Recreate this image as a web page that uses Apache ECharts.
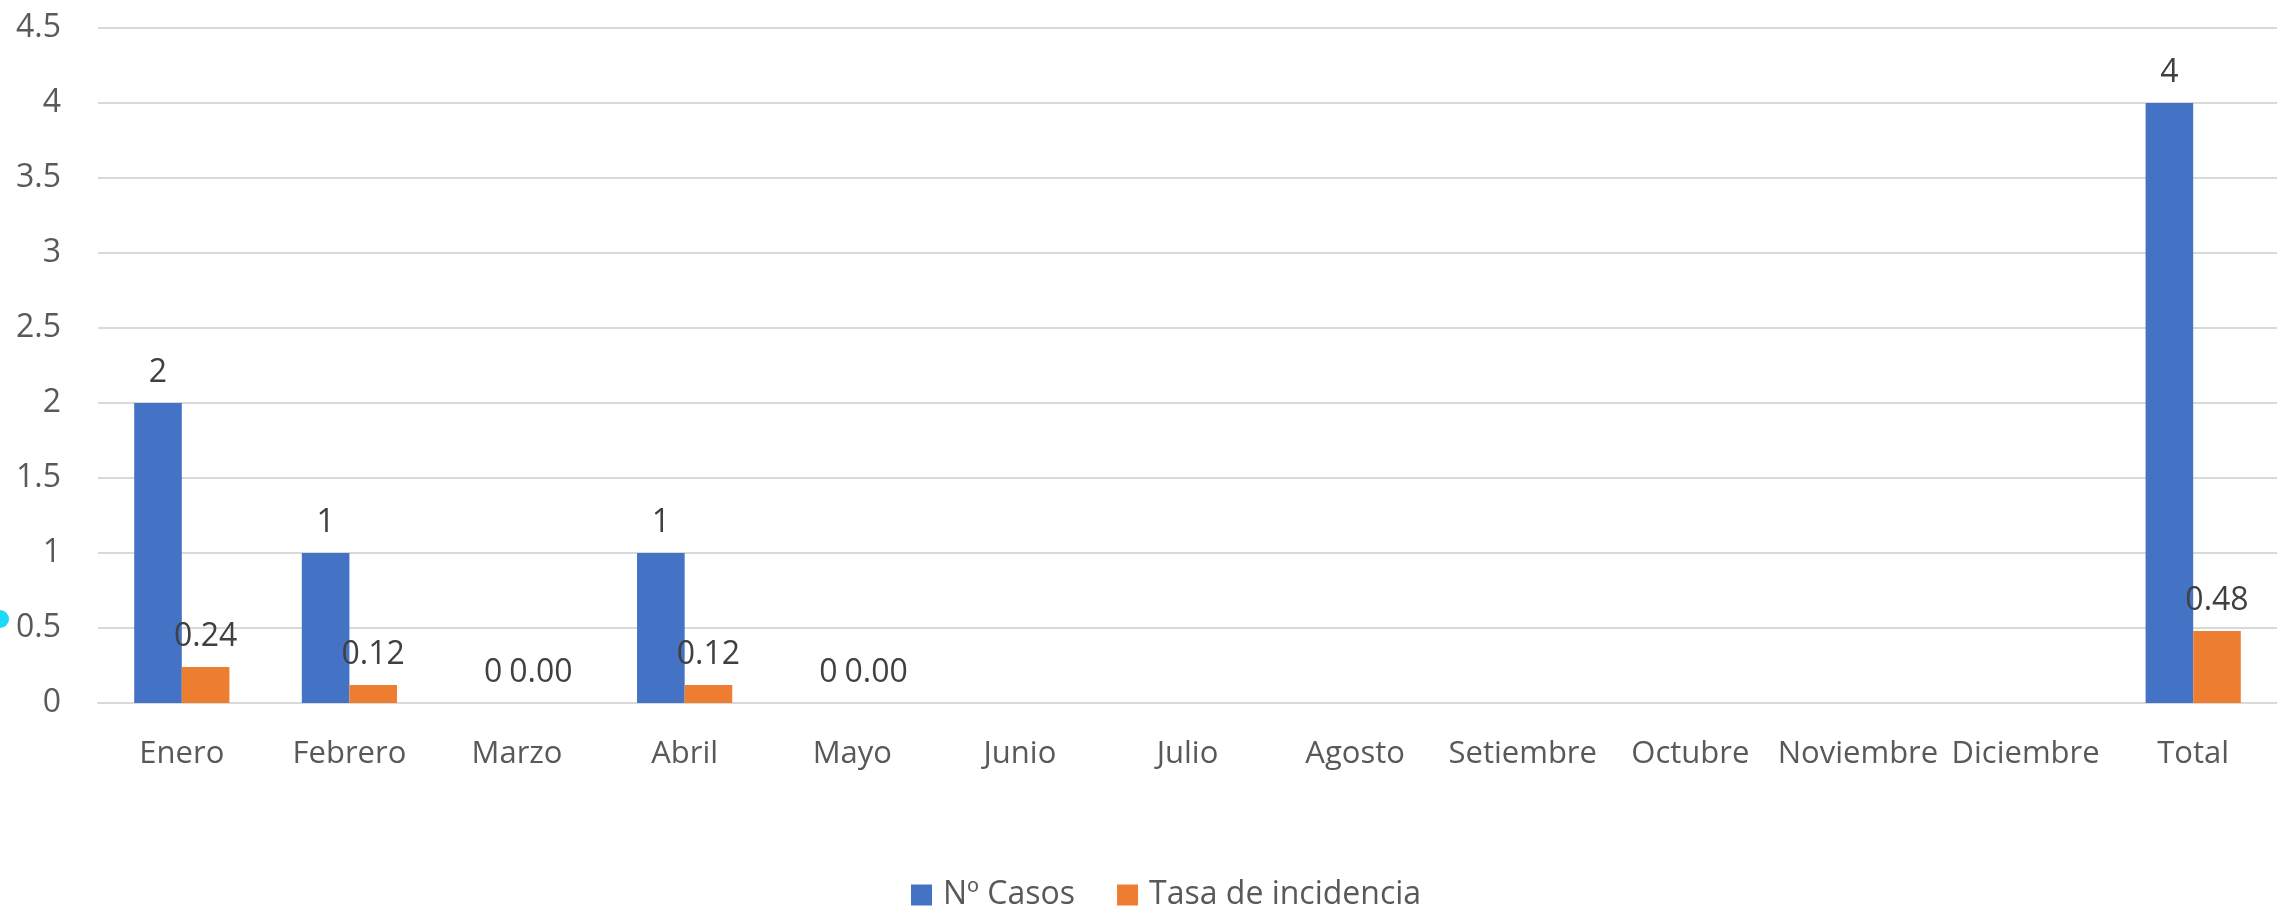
<!DOCTYPE html>
<html lang="es">
<head>
    <meta charset="utf-8">
    <title>Casos y tasa de incidencia</title>
    <script src="https://cdn.jsdelivr.net/npm/echarts@6/dist/echarts.min.js"></script>
    <style>
        html, body { margin: 0; padding: 0; background: #fff; }
        #main { width: 2277px; height: 910px; }
    </style>
</head>
<body>
    <div id="main"></div>
    <script type="text/javascript">
    // datos
    var meses = ['Enero', 'Febrero', 'Marzo', 'Abril', 'Mayo', 'Junio', 'Julio',
                 'Agosto', 'Setiembre', 'Octubre', 'Noviembre', 'Diciembre', 'Total'];
    var casos = [2, 1, 0, 1, 0, null, null, null, null, null, null, null, 4];
    var tasa = [0.24, 0.12, 0.00, 0.12, 0.00, null, null, null, null, null, null, null, 0.48];
    var yTicks = [0, 0.5, 1, 1.5, 2, 2.5, 3, 3.5, 4, 4.5];

    var fuente = '"Open Sans", sans-serif';

    // los meses sin dato no llevan barra ni etiqueta
    function puntos(arr) {
        return arr.map(function (v) { return v === null ? '-' : v; });
    }

    var myChart = echarts.init(document.getElementById('main'));

    myChart.setOption({
        animation: false,
        textStyle: { fontFamily: fuente },
        grid: { left: 98, right: -18, top: 28, bottom: 207 },
        legend: {
            data: ['Nº Casos', 'Tasa de incidencia'],
            top: 874,
            left: 906,
            itemWidth: 21,
            itemHeight: 21,
            itemGap: 42,
            icon: 'rect',
            textStyle: { fontSize: 32, color: '#595959', fontFamily: fuente, padding: [0, 0, 0, 6] }
        },
        xAxis: {
            type: 'category',
            data: meses,
            axisTick: { show: false },
            axisLine: { lineStyle: { color: '#d9d9d9', width: 2 } },
            axisLabel: { fontSize: 31, color: '#595959', margin: 36, interval: 0 }
        },
        yAxis: {
            type: 'value',
            min: 0,
            max: yTicks[yTicks.length - 1],
            interval: 0.5,
            axisLine: { show: false },
            axisTick: { show: false },
            splitLine: { lineStyle: { color: '#d9d9d9', width: 2 } },
            axisLabel: { fontSize: 32, color: '#595959', margin: 37 }
        },
        series: [{
            name: 'Nº Casos',
            type: 'bar',
            data: puntos(casos),
            barWidth: '28.4%',
            barGap: '0%',
            itemStyle: { color: '#4472C4' },
            label: {
                show: true, position: 'top', distance: 14,
                fontSize: 32, color: '#404040'
            }
        }, {
            name: 'Tasa de incidencia',
            type: 'bar',
            data: puntos(tasa),
            barWidth: '28.4%',
            itemStyle: { color: '#ED7D31' },
            label: {
                show: true, position: 'top', distance: 14,
                fontSize: 32, color: '#404040',
                formatter: function (p) { return p.value.toFixed(2); }
            }
        }],
        graphic: [{
            type: 'circle',
            shape: { cx: 0, cy: 619, r: 9 },
            style: { fill: '#1ed8f7' }
        }]
    });
    </script>
</body>
</html>
